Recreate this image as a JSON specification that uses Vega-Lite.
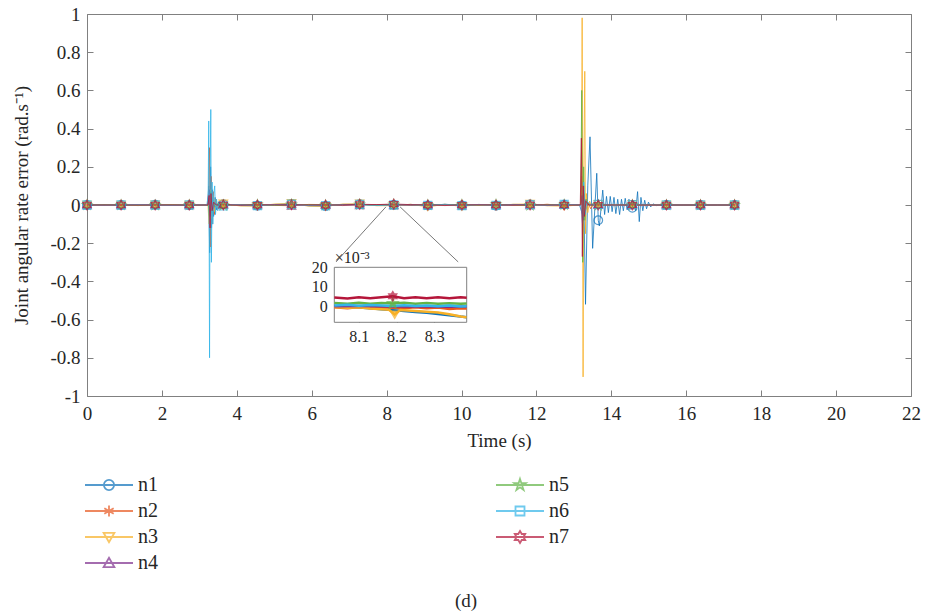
{
  "$schema": "https://vega.github.io/schema/vega-lite/v6.json",
  "width": 824,
  "height": 382,
  "autosize": {"type": "none"},
  "padding": {"left": 87, "top": 14, "right": 15, "bottom": 220},
  "background": "white",
  "config": {
    "font": "Liberation Serif",
    "view": {"stroke": "#808080", "strokeWidth": 1},
    "axis": {"grid": false, "domain": false, "labelFlush": false, "tickColor": "#808080", "labelColor": "#262626", "titleColor": "#262626", "labelFont": "Liberation Serif", "titleFont": "Liberation Serif", "titleFontWeight": "normal", "labelFontSize": 19, "titleFontSize": 19}
  },
  "title": {"text": "(d)", "orient": "bottom", "anchor": "middle", "frame": "group", "dx": -33, "offset": 19, "font": "Liberation Serif", "fontSize": 19, "fontWeight": "normal", "color": "#262626"},
  "datasets": {
    "lines": [
      {"s":"n1","t":0,"v":0,"m":1},{"s":"n1","t":0.455,"v":0.002},{"s":"n1","t":0.91,"v":0,"m":1},{"s":"n1","t":1.365,"v":-0.003},{"s":"n1","t":1.82,"v":0.002,"m":1},{"s":"n1","t":2.275,"v":0},{"s":"n1","t":2.73,"v":-0.002,"m":1},{"s":"n1","t":3.185,"v":0},
      {"s":"n1","t":3.22,"v":0},{"s":"n1","t":3.25,"v":0.1},{"s":"n1","t":3.275,"v":-0.25},{"s":"n1","t":3.3,"v":0.2},{"s":"n1","t":3.325,"v":-0.12},{"s":"n1","t":3.35,"v":0.08},{"s":"n1","t":3.38,"v":-0.06},{"s":"n1","t":3.42,"v":0.04},{"s":"n1","t":3.46,"v":-0.025},{"s":"n1","t":3.52,"v":0.015},{"s":"n1","t":3.58,"v":-0.008},
      {"s":"n1","t":3.64,"v":0.004,"m":1},{"s":"n1","t":4.095,"v":-0.003},{"s":"n1","t":4.55,"v":-0.004,"m":1},{"s":"n1","t":5.005,"v":0.003},{"s":"n1","t":5.46,"v":0.006,"m":1},{"s":"n1","t":5.915,"v":-0.004},{"s":"n1","t":6.37,"v":-0.006,"m":1},{"s":"n1","t":6.825,"v":0.003},{"s":"n1","t":7.28,"v":0.004,"m":1},{"s":"n1","t":7.735,"v":-0.002},{"s":"n1","t":8.19,"v":0,"m":1},{"s":"n1","t":8.645,"v":0.003},{"s":"n1","t":9.1,"v":-0.003,"m":1},{"s":"n1","t":9.555,"v":0.004},{"s":"n1","t":10.01,"v":-0.002,"m":1},{"s":"n1","t":10.465,"v":0.003},{"s":"n1","t":10.92,"v":-0.004,"m":1},{"s":"n1","t":11.375,"v":0.002},{"s":"n1","t":11.83,"v":0.003,"m":1},{"s":"n1","t":12.285,"v":-0.003},{"s":"n1","t":12.74,"v":0.002,"m":1},{"s":"n1","t":13.15,"v":0},
      {"s":"n1","t":13.23,"v":-0.05},{"s":"n1","t":13.26,"v":0.1},{"s":"n1","t":13.31,"v":-0.52},{"s":"n1","t":13.37,"v":0.1},{"s":"n1","t":13.43,"v":0.357},{"s":"n1","t":13.5,"v":-0.227},{"s":"n1","t":13.61,"v":0.166},{"s":"n1","t":13.65,"v":-0.08,"m":1},{"s":"n1","t":13.68,"v":-0.11},{"s":"n1","t":13.77,"v":0.078},{"s":"n1","t":13.82,"v":-0.05},{"s":"n1","t":13.87,"v":0.045},{"s":"n1","t":13.92,"v":-0.04},{"s":"n1","t":13.97,"v":0.045},{"s":"n1","t":14.02,"v":-0.035},{"s":"n1","t":14.07,"v":0.04},{"s":"n1","t":14.12,"v":-0.045},{"s":"n1","t":14.17,"v":0.03},{"s":"n1","t":14.22,"v":-0.05},{"s":"n1","t":14.27,"v":0.03},{"s":"n1","t":14.32,"v":-0.03},{"s":"n1","t":14.37,"v":0.035},{"s":"n1","t":14.42,"v":-0.025},{"s":"n1","t":14.47,"v":0.03},{"s":"n1","t":14.51,"v":-0.02},{"s":"n1","t":14.56,"v":-0.015,"m":1},{"s":"n1","t":14.6,"v":0.025},{"s":"n1","t":14.65,"v":-0.03},{"s":"n1","t":14.7,"v":0.07},{"s":"n1","t":14.745,"v":-0.087},{"s":"n1","t":14.79,"v":0.04},{"s":"n1","t":14.84,"v":-0.03},{"s":"n1","t":14.89,"v":0.025},{"s":"n1","t":14.94,"v":-0.02},{"s":"n1","t":14.99,"v":0.015},{"s":"n1","t":15.05,"v":-0.01},{"s":"n1","t":15.12,"v":0.006},{"s":"n1","t":15.2,"v":-0.003},{"s":"n1","t":15.3,"v":0},
      {"s":"n1","t":15.47,"v":0,"m":1},{"s":"n1","t":15.925,"v":0},{"s":"n1","t":16.38,"v":0,"m":1},{"s":"n1","t":16.835,"v":0},{"s":"n1","t":17.29,"v":0,"m":1},

      {"s":"n2","t":0,"v":0,"m":1},{"s":"n2","t":0.455,"v":-0.002},{"s":"n2","t":0.91,"v":0,"m":1},{"s":"n2","t":1.365,"v":0.002},{"s":"n2","t":1.82,"v":0,"m":1},{"s":"n2","t":2.275,"v":-0.002},{"s":"n2","t":2.73,"v":0,"m":1},{"s":"n2","t":3.185,"v":0},
      {"s":"n2","t":3.22,"v":0},{"s":"n2","t":3.245,"v":0.06},{"s":"n2","t":3.27,"v":0.3},{"s":"n2","t":3.29,"v":-0.22},{"s":"n2","t":3.315,"v":0.15},{"s":"n2","t":3.34,"v":-0.1},{"s":"n2","t":3.37,"v":0.07},{"s":"n2","t":3.4,"v":-0.05},{"s":"n2","t":3.44,"v":0.03},{"s":"n2","t":3.49,"v":-0.02},{"s":"n2","t":3.55,"v":0.01},{"s":"n2","t":3.6,"v":-0.005},
      {"s":"n2","t":3.64,"v":-0.003,"m":1},{"s":"n2","t":4.095,"v":0.002},{"s":"n2","t":4.55,"v":0.003,"m":1},{"s":"n2","t":5.005,"v":-0.002},{"s":"n2","t":5.46,"v":-0.004,"m":1},{"s":"n2","t":5.915,"v":0.003},{"s":"n2","t":6.37,"v":0.002,"m":1},{"s":"n2","t":6.825,"v":-0.003},{"s":"n2","t":7.28,"v":0.002,"m":1},{"s":"n2","t":7.735,"v":0.002},{"s":"n2","t":8.19,"v":0,"m":1},{"s":"n2","t":8.645,"v":-0.002},{"s":"n2","t":9.1,"v":0.002,"m":1},{"s":"n2","t":9.555,"v":-0.003},{"s":"n2","t":10.01,"v":0.002,"m":1},{"s":"n2","t":10.465,"v":-0.002},{"s":"n2","t":10.92,"v":0.003,"m":1},{"s":"n2","t":11.375,"v":-0.002},{"s":"n2","t":11.83,"v":-0.003,"m":1},{"s":"n2","t":12.285,"v":0.004},{"s":"n2","t":12.74,"v":-0.004,"m":1},{"s":"n2","t":13.15,"v":0},
      {"s":"n2","t":13.18,"v":0},{"s":"n2","t":13.21,"v":0.15},{"s":"n2","t":13.235,"v":-0.15},{"s":"n2","t":13.27,"v":0.06},{"s":"n2","t":13.31,"v":-0.03},{"s":"n2","t":13.38,"v":0.01},{"s":"n2","t":13.45,"v":-0.02},{"s":"n2","t":13.52,"v":0.01},
      {"s":"n2","t":13.65,"v":0.003,"m":1},{"s":"n2","t":14.105,"v":-0.002},{"s":"n2","t":14.56,"v":0.002,"m":1},{"s":"n2","t":15.015,"v":0},{"s":"n2","t":15.47,"v":0,"m":1},{"s":"n2","t":15.925,"v":0},{"s":"n2","t":16.38,"v":0,"m":1},{"s":"n2","t":16.835,"v":0},{"s":"n2","t":17.29,"v":0,"m":1},

      {"s":"n3","t":0,"v":0,"m":1},{"s":"n3","t":0.455,"v":0.001},{"s":"n3","t":0.91,"v":0,"m":1},{"s":"n3","t":1.365,"v":-0.002},{"s":"n3","t":1.82,"v":0.001,"m":1},{"s":"n3","t":2.275,"v":0.002},{"s":"n3","t":2.73,"v":-0.001,"m":1},{"s":"n3","t":3.185,"v":0},
      {"s":"n3","t":3.23,"v":0},{"s":"n3","t":3.26,"v":-0.1},{"s":"n3","t":3.29,"v":0.08},{"s":"n3","t":3.32,"v":-0.07},{"s":"n3","t":3.36,"v":0.05},{"s":"n3","t":3.4,"v":-0.035},{"s":"n3","t":3.45,"v":0.03},{"s":"n3","t":3.5,"v":-0.02},{"s":"n3","t":3.56,"v":0.012},{"s":"n3","t":3.6,"v":-0.006},
      {"s":"n3","t":3.64,"v":0.006,"m":1},{"s":"n3","t":4.095,"v":-0.005},{"s":"n3","t":4.55,"v":-0.006,"m":1},{"s":"n3","t":5.005,"v":0.005},{"s":"n3","t":5.46,"v":0.008,"m":1},{"s":"n3","t":5.915,"v":-0.006},{"s":"n3","t":6.37,"v":-0.008,"m":1},{"s":"n3","t":6.825,"v":0.005},{"s":"n3","t":7.28,"v":0.006,"m":1},{"s":"n3","t":7.735,"v":-0.004},{"s":"n3","t":8.19,"v":-0.003,"m":1},{"s":"n3","t":8.645,"v":0.004},{"s":"n3","t":9.1,"v":-0.01,"m":1},{"s":"n3","t":9.555,"v":0.004},{"s":"n3","t":10.01,"v":-0.008,"m":1},{"s":"n3","t":10.465,"v":0.003},{"s":"n3","t":10.92,"v":-0.005,"m":1},{"s":"n3","t":11.375,"v":0.004},{"s":"n3","t":11.83,"v":0.005,"m":1},{"s":"n3","t":12.285,"v":-0.004},{"s":"n3","t":12.74,"v":-0.006,"m":1},{"s":"n3","t":13.15,"v":0},
      {"s":"n3","t":13.18,"v":0},{"s":"n3","t":13.205,"v":0.1},{"s":"n3","t":13.22,"v":0.98},{"s":"n3","t":13.245,"v":-0.9},{"s":"n3","t":13.265,"v":0.2},{"s":"n3","t":13.29,"v":0.7},{"s":"n3","t":13.31,"v":-0.15},{"s":"n3","t":13.335,"v":0.06},{"s":"n3","t":13.37,"v":-0.04},{"s":"n3","t":13.42,"v":0.02},{"s":"n3","t":13.48,"v":-0.01},{"s":"n3","t":13.55,"v":0.005},
      {"s":"n3","t":13.65,"v":0.004,"m":1},{"s":"n3","t":14.105,"v":-0.004},{"s":"n3","t":14.56,"v":0.003,"m":1},{"s":"n3","t":15.015,"v":-0.002},{"s":"n3","t":15.47,"v":0,"m":1},{"s":"n3","t":15.925,"v":0},{"s":"n3","t":16.38,"v":0,"m":1},{"s":"n3","t":16.835,"v":0},{"s":"n3","t":17.29,"v":0,"m":1},

      {"s":"n4","t":0,"v":0,"m":1},{"s":"n4","t":0.455,"v":0},{"s":"n4","t":0.91,"v":0,"m":1},{"s":"n4","t":1.365,"v":0.001},{"s":"n4","t":1.82,"v":0,"m":1},{"s":"n4","t":2.275,"v":0},{"s":"n4","t":2.73,"v":0,"m":1},{"s":"n4","t":3.185,"v":0},
      {"s":"n4","t":3.24,"v":0},{"s":"n4","t":3.27,"v":0.08},{"s":"n4","t":3.3,"v":-0.06},{"s":"n4","t":3.33,"v":0.04},{"s":"n4","t":3.37,"v":-0.02},{"s":"n4","t":3.42,"v":0.01},{"s":"n4","t":3.5,"v":0},
      {"s":"n4","t":3.64,"v":0.002,"m":1},{"s":"n4","t":4.095,"v":-0.001},{"s":"n4","t":4.55,"v":0.001,"m":1},{"s":"n4","t":5.005,"v":0},{"s":"n4","t":5.46,"v":-0.002,"m":1},{"s":"n4","t":5.915,"v":0.001},{"s":"n4","t":6.37,"v":0.002,"m":1},{"s":"n4","t":6.825,"v":-0.001},{"s":"n4","t":7.28,"v":0,"m":1},{"s":"n4","t":7.735,"v":0.001},{"s":"n4","t":8.19,"v":0,"m":1},{"s":"n4","t":8.645,"v":-0.001},{"s":"n4","t":9.1,"v":0.001,"m":1},{"s":"n4","t":9.555,"v":0},{"s":"n4","t":10.01,"v":-0.001,"m":1},{"s":"n4","t":10.465,"v":0.001},{"s":"n4","t":10.92,"v":0,"m":1},{"s":"n4","t":11.375,"v":-0.001},{"s":"n4","t":11.83,"v":0.001,"m":1},{"s":"n4","t":12.285,"v":0},{"s":"n4","t":12.74,"v":0.002,"m":1},{"s":"n4","t":13.15,"v":0},
      {"s":"n4","t":13.19,"v":0},{"s":"n4","t":13.22,"v":0.05},{"s":"n4","t":13.25,"v":-0.08},{"s":"n4","t":13.29,"v":0.03},{"s":"n4","t":13.35,"v":0},
      {"s":"n4","t":13.65,"v":0.002,"m":1},{"s":"n4","t":14.105,"v":-0.001},{"s":"n4","t":14.56,"v":0.001,"m":1},{"s":"n4","t":15.015,"v":0},{"s":"n4","t":15.47,"v":0,"m":1},{"s":"n4","t":15.925,"v":0},{"s":"n4","t":16.38,"v":0,"m":1},{"s":"n4","t":16.835,"v":0},{"s":"n4","t":17.29,"v":0,"m":1},

      {"s":"n5","t":0,"v":0,"m":1},{"s":"n5","t":0.455,"v":0.001},{"s":"n5","t":0.91,"v":0,"m":1},{"s":"n5","t":1.365,"v":0},{"s":"n5","t":1.82,"v":-0.001,"m":1},{"s":"n5","t":2.275,"v":0.001},{"s":"n5","t":2.73,"v":0,"m":1},{"s":"n5","t":3.185,"v":0},
      {"s":"n5","t":3.24,"v":0},{"s":"n5","t":3.27,"v":-0.06},{"s":"n5","t":3.3,"v":0.07},{"s":"n5","t":3.33,"v":-0.04},{"s":"n5","t":3.37,"v":0.025},{"s":"n5","t":3.42,"v":-0.01},{"s":"n5","t":3.5,"v":0},
      {"s":"n5","t":3.64,"v":-0.002,"m":1},{"s":"n5","t":4.095,"v":0.002},{"s":"n5","t":4.55,"v":0.001,"m":1},{"s":"n5","t":5.005,"v":-0.002},{"s":"n5","t":5.46,"v":0.002,"m":1},{"s":"n5","t":5.915,"v":0.002},{"s":"n5","t":6.37,"v":-0.001,"m":1},{"s":"n5","t":6.825,"v":0.002},{"s":"n5","t":7.28,"v":0.002,"m":1},{"s":"n5","t":7.735,"v":0},{"s":"n5","t":8.19,"v":0.002,"m":1},{"s":"n5","t":8.645,"v":0.001},{"s":"n5","t":9.1,"v":0,"m":1},{"s":"n5","t":9.555,"v":0.002},{"s":"n5","t":10.01,"v":0.001,"m":1},{"s":"n5","t":10.465,"v":-0.001},{"s":"n5","t":10.92,"v":0.002,"m":1},{"s":"n5","t":11.375,"v":0.001},{"s":"n5","t":11.83,"v":-0.002,"m":1},{"s":"n5","t":12.285,"v":0.002},{"s":"n5","t":12.74,"v":0.001,"m":1},{"s":"n5","t":13.15,"v":0},
      {"s":"n5","t":13.18,"v":0},{"s":"n5","t":13.21,"v":0.6},{"s":"n5","t":13.235,"v":-0.3},{"s":"n5","t":13.26,"v":0.2},{"s":"n5","t":13.29,"v":-0.08},{"s":"n5","t":13.33,"v":0.03},{"s":"n5","t":13.4,"v":0},
      {"s":"n5","t":13.65,"v":-0.002,"m":1},{"s":"n5","t":14.105,"v":0.001},{"s":"n5","t":14.56,"v":0,"m":1},{"s":"n5","t":15.015,"v":0.001},{"s":"n5","t":15.47,"v":0,"m":1},{"s":"n5","t":15.925,"v":0},{"s":"n5","t":16.38,"v":0,"m":1},{"s":"n5","t":16.835,"v":0},{"s":"n5","t":17.29,"v":0,"m":1},

      {"s":"n6","t":0,"v":0,"m":1},{"s":"n6","t":0.455,"v":-0.001},{"s":"n6","t":0.91,"v":0,"m":1},{"s":"n6","t":1.365,"v":0.002},{"s":"n6","t":1.82,"v":0,"m":1},{"s":"n6","t":2.275,"v":-0.002},{"s":"n6","t":2.73,"v":0.001,"m":1},{"s":"n6","t":3.185,"v":0},
      {"s":"n6","t":3.2,"v":0},{"s":"n6","t":3.235,"v":0.05},{"s":"n6","t":3.25,"v":0.44},{"s":"n6","t":3.262,"v":-0.2},{"s":"n6","t":3.272,"v":-0.8},{"s":"n6","t":3.285,"v":0.1},{"s":"n6","t":3.305,"v":0.5},{"s":"n6","t":3.322,"v":-0.3},{"s":"n6","t":3.34,"v":0.12},{"s":"n6","t":3.36,"v":-0.1},{"s":"n6","t":3.385,"v":0.06},{"s":"n6","t":3.41,"v":0.1},{"s":"n6","t":3.43,"v":-0.05},{"s":"n6","t":3.46,"v":0.03},{"s":"n6","t":3.49,"v":-0.03},{"s":"n6","t":3.53,"v":0.02},{"s":"n6","t":3.57,"v":-0.015},{"s":"n6","t":3.6,"v":0.01},
      {"s":"n6","t":3.64,"v":-0.005,"m":1},{"s":"n6","t":3.7,"v":0.008},{"s":"n6","t":3.78,"v":-0.004},{"s":"n6","t":3.86,"v":0.002},{"s":"n6","t":4.095,"v":0.002},{"s":"n6","t":4.55,"v":-0.003,"m":1},{"s":"n6","t":5.005,"v":0.002},{"s":"n6","t":5.46,"v":0.004,"m":1},{"s":"n6","t":5.915,"v":-0.003},{"s":"n6","t":6.37,"v":-0.003,"m":1},{"s":"n6","t":6.825,"v":0.002},{"s":"n6","t":7.28,"v":0.003,"m":1},{"s":"n6","t":7.735,"v":-0.002},{"s":"n6","t":8.19,"v":0.001,"m":1},{"s":"n6","t":8.645,"v":0.002},{"s":"n6","t":9.1,"v":-0.002,"m":1},{"s":"n6","t":9.555,"v":0.003},{"s":"n6","t":10.01,"v":-0.003,"m":1},{"s":"n6","t":10.465,"v":0.002},{"s":"n6","t":10.92,"v":-0.002,"m":1},{"s":"n6","t":11.375,"v":0.003},{"s":"n6","t":11.83,"v":0.002,"m":1},{"s":"n6","t":12.285,"v":-0.002},{"s":"n6","t":12.74,"v":0.003,"m":1},{"s":"n6","t":13.15,"v":0},
      {"s":"n6","t":13.19,"v":0},{"s":"n6","t":13.23,"v":-0.1},{"s":"n6","t":13.26,"v":0.12},{"s":"n6","t":13.3,"v":-0.05},{"s":"n6","t":13.35,"v":0.02},{"s":"n6","t":13.45,"v":0},
      {"s":"n6","t":13.65,"v":0.003,"m":1},{"s":"n6","t":14.105,"v":-0.002},{"s":"n6","t":14.56,"v":0.002,"m":1},{"s":"n6","t":15.015,"v":0},{"s":"n6","t":15.47,"v":0,"m":1},{"s":"n6","t":15.925,"v":0},{"s":"n6","t":16.38,"v":0,"m":1},{"s":"n6","t":16.835,"v":0},{"s":"n6","t":17.29,"v":0,"m":1},

      {"s":"n7","t":0,"v":0,"m":1},{"s":"n7","t":0.455,"v":0},{"s":"n7","t":0.91,"v":0,"m":1},{"s":"n7","t":1.365,"v":0},{"s":"n7","t":1.82,"v":0,"m":1},{"s":"n7","t":2.275,"v":0},{"s":"n7","t":2.73,"v":0,"m":1},{"s":"n7","t":3.185,"v":0},
      {"s":"n7","t":3.23,"v":0},{"s":"n7","t":3.26,"v":0.05},{"s":"n7","t":3.285,"v":-0.12},{"s":"n7","t":3.31,"v":0.06},{"s":"n7","t":3.34,"v":-0.03},{"s":"n7","t":3.38,"v":0.015},{"s":"n7","t":3.45,"v":0},
      {"s":"n7","t":3.64,"v":0.001,"m":1},{"s":"n7","t":4.095,"v":0},{"s":"n7","t":4.55,"v":0,"m":1},{"s":"n7","t":5.005,"v":0.001},{"s":"n7","t":5.46,"v":0.002,"m":1},{"s":"n7","t":5.915,"v":0},{"s":"n7","t":6.37,"v":-0.001,"m":1},{"s":"n7","t":6.825,"v":0.001},{"s":"n7","t":7.28,"v":0.004,"m":1},{"s":"n7","t":7.735,"v":0.002},{"s":"n7","t":8.19,"v":0.005,"m":1},{"s":"n7","t":8.645,"v":0.002},{"s":"n7","t":9.1,"v":0,"m":1},{"s":"n7","t":9.555,"v":-0.001},{"s":"n7","t":10.01,"v":0,"m":1},{"s":"n7","t":10.465,"v":0.001},{"s":"n7","t":10.92,"v":0,"m":1},{"s":"n7","t":11.375,"v":0.001},{"s":"n7","t":11.83,"v":0.001,"m":1},{"s":"n7","t":12.285,"v":0},{"s":"n7","t":12.74,"v":0,"m":1},{"s":"n7","t":13.15,"v":0},
      {"s":"n7","t":13.17,"v":0},{"s":"n7","t":13.2,"v":0.35},{"s":"n7","t":13.225,"v":-0.27},{"s":"n7","t":13.25,"v":0.1},{"s":"n7","t":13.28,"v":-0.06},{"s":"n7","t":13.32,"v":0.02},{"s":"n7","t":13.4,"v":0},
      {"s":"n7","t":13.65,"v":0,"m":1},{"s":"n7","t":14.105,"v":0},{"s":"n7","t":14.56,"v":0,"m":1},{"s":"n7","t":15.015,"v":0},{"s":"n7","t":15.47,"v":0,"m":1},{"s":"n7","t":15.925,"v":0},{"s":"n7","t":16.38,"v":0,"m":1},{"s":"n7","t":16.835,"v":0},{"s":"n7","t":17.29,"v":0,"m":1}
    ],
    "ins": [
      {"s":"n1","t":8.035,"v":0.3},{"s":"n1","t":8.07,"v":-0.2},{"s":"n1","t":8.1,"v":-0.5},{"s":"n1","t":8.13,"v":-0.9},{"s":"n1","t":8.16,"v":-1.3},{"s":"n1","t":8.19,"v":-1.8},{"s":"n1","t":8.22,"v":-2.2},{"s":"n1","t":8.25,"v":-2.7},{"s":"n1","t":8.28,"v":-3.2},{"s":"n1","t":8.31,"v":-3.8},{"s":"n1","t":8.34,"v":-4.4},{"s":"n1","t":8.37,"v":-5.1},{"s":"n1","t":8.386,"v":-5.4},
      {"s":"n2","t":8.035,"v":-0.3},{"s":"n2","t":8.07,"v":-0.8},{"s":"n2","t":8.1,"v":-0.2},{"s":"n2","t":8.13,"v":-0.7},{"s":"n2","t":8.16,"v":-0.4},{"s":"n2","t":8.19,"v":-0.6},{"s":"n2","t":8.22,"v":-0.9},{"s":"n2","t":8.25,"v":-0.3},{"s":"n2","t":8.28,"v":-0.8},{"s":"n2","t":8.31,"v":-0.5},{"s":"n2","t":8.34,"v":-1.2},{"s":"n2","t":8.37,"v":-0.9},{"s":"n2","t":8.386,"v":-1.0},
      {"s":"n3","t":8.035,"v":-0.2},{"s":"n3","t":8.07,"v":-0.6},{"s":"n3","t":8.1,"v":-0.4},{"s":"n3","t":8.13,"v":-1.0},{"s":"n3","t":8.16,"v":-1.4},{"s":"n3","t":8.18,"v":-1.6},{"s":"n3","t":8.195,"v":-4.0,"m":1},{"s":"n3","t":8.21,"v":-1.8},{"s":"n3","t":8.25,"v":-2.3},{"s":"n3","t":8.28,"v":-2.6},{"s":"n3","t":8.31,"v":-3.0},{"s":"n3","t":8.34,"v":-3.9},{"s":"n3","t":8.37,"v":-5.0},{"s":"n3","t":8.386,"v":-5.5},
      {"s":"n4","t":8.035,"v":0.2},{"s":"n4","t":8.1,"v":0.3},{"s":"n4","t":8.16,"v":0.2},{"s":"n4","t":8.22,"v":0.1},{"s":"n4","t":8.28,"v":0},{"s":"n4","t":8.34,"v":-0.1},{"s":"n4","t":8.386,"v":0},
      {"s":"n5","t":8.035,"v":1.8},{"s":"n5","t":8.07,"v":1.4},{"s":"n5","t":8.1,"v":1.9},{"s":"n5","t":8.13,"v":1.5},{"s":"n5","t":8.16,"v":1.8},{"s":"n5","t":8.19,"v":1.6,"m":1},{"s":"n5","t":8.22,"v":1.9},{"s":"n5","t":8.25,"v":1.5},{"s":"n5","t":8.28,"v":1.8},{"s":"n5","t":8.31,"v":1.4},{"s":"n5","t":8.34,"v":1.7},{"s":"n5","t":8.37,"v":1.5},{"s":"n5","t":8.386,"v":1.6},
      {"s":"n6","t":8.035,"v":0.5},{"s":"n6","t":8.07,"v":0.9},{"s":"n6","t":8.1,"v":0.4},{"s":"n6","t":8.13,"v":0.8},{"s":"n6","t":8.16,"v":0.5},{"s":"n6","t":8.19,"v":0.3},{"s":"n6","t":8.22,"v":0.7},{"s":"n6","t":8.25,"v":0.3},{"s":"n6","t":8.28,"v":0.6},{"s":"n6","t":8.31,"v":0.2},{"s":"n6","t":8.34,"v":0.5},{"s":"n6","t":8.37,"v":0.1},{"s":"n6","t":8.386,"v":0.2},
      {"s":"n7","t":8.035,"v":4.6},{"s":"n7","t":8.07,"v":4.1},{"s":"n7","t":8.1,"v":4.8},{"s":"n7","t":8.13,"v":4.2},{"s":"n7","t":8.16,"v":4.7},{"s":"n7","t":8.19,"v":5.3,"m":1},{"s":"n7","t":8.22,"v":4.3},{"s":"n7","t":8.25,"v":4.8},{"s":"n7","t":8.28,"v":4.2},{"s":"n7","t":8.31,"v":4.7},{"s":"n7","t":8.34,"v":4.2},{"s":"n7","t":8.37,"v":4.7},{"s":"n7","t":8.386,"v":4.5}
    ],
    "conn": [
      {"t":7.98,"v":-0.01,"t2":6.65,"v2":-0.298},
      {"t":8.36,"v":-0.01,"t2":9.91,"v2":-0.298}
    ]
  },
  "layer": [
    {
      "data": {"name": "lines"},
      "encoding": {
        "x": {"field": "t", "type": "quantitative", "scale": {"domain": [0, 22], "nice": false, "zero": false},
              "axis": {"orient": "bottom", "title": "Time (s)", "values": [0,2,4,6,8,10,12,14,16,18,20,22], "labelExpr": "'' + datum.value", "tickSize": -6, "labelPadding": 14, "titlePadding": 8}},
        "y": {"field": "v", "type": "quantitative", "scale": {"domain": [-1, 1], "nice": false, "zero": false},
              "axis": {"orient": "left", "title": "Joint angular rate error (rad.s⁻¹)", "values": [-1,-0.8,-0.6,-0.4,-0.2,0,0.2,0.4,0.6,0.8,1], "labelExpr": "'' + datum.value", "tickSize": -6, "labelPadding": 13, "titlePadding": 18}}
      },
      "layer": [
        {"mark": {"type": "line", "strokeWidth": 0.8},
         "encoding": {"stroke": {"field": "s", "type": "nominal", "legend": null,
            "scale": {"domain": ["n7","n6","n5","n4","n3","n2","n1"], "range": ["#B5163A","#33B5E8","#62B447","#7E2F8E","#F7B026","#E8561E","#0E72BA"]}}}},
        {"transform": [{"filter": "datum.m == 1 && datum.s == 'n1'"}], "mark": {"type": "point", "shape": "circle", "filled": false, "size": 75, "strokeWidth": 1.2},
         "encoding": {"stroke": {"field": "s", "type": "nominal", "legend": null}}},
        {"transform": [{"filter": "datum.m == 1 && datum.s == 'n2'"}], "mark": {"type": "point", "shape": "M0,-1V1M-0.87,-0.5L0.87,0.5M-0.87,0.5L0.87,-0.5", "filled": false, "size": 70, "strokeWidth": 1.2},
         "encoding": {"stroke": {"field": "s", "type": "nominal", "legend": null}}},
        {"transform": [{"filter": "datum.m == 1 && datum.s == 'n3'"}], "mark": {"type": "point", "shape": "triangle-down", "filled": false, "size": 75, "strokeWidth": 1.2},
         "encoding": {"stroke": {"field": "s", "type": "nominal", "legend": null}}},
        {"transform": [{"filter": "datum.m == 1 && datum.s == 'n4'"}], "mark": {"type": "point", "shape": "triangle-up", "filled": false, "size": 75, "strokeWidth": 1.2},
         "encoding": {"stroke": {"field": "s", "type": "nominal", "legend": null}}},
        {"transform": [{"filter": "datum.m == 1 && datum.s == 'n5'"}], "mark": {"type": "point", "shape": "M0,-1L0.225,-0.309L0.951,-0.309L0.363,0.118L0.588,0.809L0,0.382L-0.588,0.809L-0.363,0.118L-0.951,-0.309L-0.225,-0.309Z", "filled": false, "size": 95, "strokeWidth": 1.2},
         "encoding": {"stroke": {"field": "s", "type": "nominal", "legend": null}}},
        {"transform": [{"filter": "datum.m == 1 && datum.s == 'n6'"}], "mark": {"type": "point", "shape": "square", "filled": false, "size": 65, "strokeWidth": 1.2},
         "encoding": {"stroke": {"field": "s", "type": "nominal", "legend": null}}},
        {"transform": [{"filter": "datum.m == 1 && datum.s == 'n7'"}], "mark": {"type": "point", "shape": "M0,-1L0.289,-0.5L0.866,-0.5L0.577,0L0.866,0.5L0.289,0.5L0,1L-0.289,0.5L-0.866,0.5L-0.577,0L-0.866,-0.5L-0.289,-0.5Z", "filled": false, "size": 95, "strokeWidth": 1.2},
         "encoding": {"stroke": {"field": "s", "type": "nominal", "legend": null}}},
        {"data": {"name": "conn"}, "mark": {"type": "rule", "color": "#555555", "strokeWidth": 0.8},
         "encoding": {"x2": {"field": "t2"}, "y2": {"field": "v2"}}},
        {"transform": [{"filter": "false"}], "mark": {"type": "point", "filled": false},
         "encoding": {
           "color": {"field": "s", "type": "nominal",
             "scale": {"domain": ["n1","n2","n3","n4","n5","n6","n7"], "range": ["#0E72BA","#E8561E","#F7B026","#7E2F8E","#62B447","#33B5E8","#B5163A"]},
             "legend": {"title": null, "orient": "none", "legendX": 12, "legendY": 461, "direction": "vertical", "columns": 2, "columnPadding": 334, "rowPadding": 6, "symbolSize": 144, "symbolStrokeWidth": 1.8, "labelFontSize": 20, "labelFont": "Liberation Serif", "labelColor": "#262626", "labelOffset": 19, "padding": 0}},
           "shape": {"field": "s", "type": "nominal",
             "scale": {"domain": ["n1","n2","n3","n4","n5","n6","n7"], "range": [
               "M-4,0H4M0.85,0A0.85,0.85 0 1,1 -0.85,0A0.85,0.85 0 1,1 0.85,0",
               "M-4,0H4M0,-0.9V0.9M-0.78,-0.45L0.78,0.45M-0.78,0.45L0.78,-0.45",
               "M-4,0H4M-0.9,-0.7L0.9,-0.7L0,0.85Z",
               "M-4,0H4M-0.9,0.7L0.9,0.7L0,-0.85Z",
               "M-4,0H4M0,-1L0.225,-0.309L0.951,-0.309L0.363,0.118L0.588,0.809L0,0.382L-0.588,0.809L-0.363,0.118L-0.951,-0.309L-0.225,-0.309Z",
               "M-4,0H4M-0.75,-0.75H0.75V0.75H-0.75Z",
               "M-4,0H4M0,-1L0.289,-0.5L0.866,-0.5L0.577,0L0.866,0.5L0.289,0.5L0,1L-0.289,0.5L-0.866,0.5L-0.577,0L-0.866,-0.5L-0.289,-0.5Z"
             ]},
             "legend": {"title": null, "orient": "none", "legendX": 12, "legendY": 461, "direction": "vertical", "columns": 2, "columnPadding": 334, "rowPadding": 6, "symbolSize": 144, "symbolStrokeWidth": 1.8, "labelFontSize": 20, "labelFont": "Liberation Serif", "labelColor": "#262626", "labelOffset": 19, "padding": 0}}
         }}
      ]
    },
    {
      "data": {"values": [{"t": 0, "v": 0}]},
      "mark": {"type": "point", "opacity": 0},
      "encoding": {
        "x": {"field": "t", "type": "quantitative", "scale": {"domain": [0, 22], "nice": false, "zero": false},
              "axis": {"orient": "top", "title": null, "values": [0,2,4,6,8,10,12,14,16,18,20,22], "labels": false, "tickSize": -6}},
        "y": {"field": "v", "type": "quantitative", "scale": {"domain": [-1, 1], "nice": false, "zero": false},
              "axis": {"orient": "right", "title": null, "values": [-1,-0.8,-0.6,-0.4,-0.2,0,0.2,0.4,0.6,0.8,1], "labels": false, "tickSize": -6}}
      }
    },
    {
      "data": {"name": "ins"},
      "encoding": {
        "x": {"field": "t", "type": "quantitative", "scale": {"domain": [8.035, 8.386], "range": [247.3, 379.7], "nice": false, "zero": false},
              "axis": {"orient": "bottom", "offset": -73.7, "title": null, "values": [8.1, 8.2, 8.3], "labelExpr": "'' + datum.value", "labelFontSize": 16, "tickSize": -4, "labelPadding": 10}},
        "y": {"field": "v", "type": "quantitative", "scale": {"domain": [-8, 20], "range": [308.3, 253.3], "nice": false, "zero": false},
              "axis": {"orient": "left", "offset": -247.3, "values": [0, 10, 20], "labelFontSize": 16, "tickSize": -4, "labelPadding": 11,
                       "title": "×10⁻³", "titleAngle": 0, "titleX": 0, "titleY": 243, "titleAlign": "left", "titleBaseline": "middle", "titleFontSize": 16}}
      },
      "layer": [
        {"data": {"values": [{"t": 8.035, "t2": 8.386, "v": -8, "v2": 20}]},
         "mark": {"type": "rect", "fill": "white", "stroke": "#808080", "strokeWidth": 1},
         "encoding": {"x2": {"field": "t2"}, "y2": {"field": "v2"}}},
        {"mark": {"type": "line", "strokeWidth": 2.5},
         "encoding": {"stroke": {"field": "s", "type": "nominal", "legend": null,
            "scale": {"domain": ["n7","n6","n5","n4","n3","n2","n1"], "range": ["#B5163A","#33B5E8","#62B447","#7E2F8E","#F7B026","#E8561E","#0E72BA"]}}}},
        {"transform": [{"filter": "datum.m == 1 && datum.s == 'n3'"}], "mark": {"type": "point", "shape": "triangle-down", "filled": false, "size": 40, "strokeWidth": 2.5},
         "encoding": {"stroke": {"field": "s", "type": "nominal", "legend": null}}},
        {"transform": [{"filter": "datum.m == 1 && datum.s == 'n5'"}], "mark": {"type": "point", "shape": "M0,-1L0.225,-0.309L0.951,-0.309L0.363,0.118L0.588,0.809L0,0.382L-0.588,0.809L-0.363,0.118L-0.951,-0.309L-0.225,-0.309Z", "filled": false, "size": 50, "strokeWidth": 2.5},
         "encoding": {"stroke": {"field": "s", "type": "nominal", "legend": null}}},
        {"transform": [{"filter": "datum.m == 1 && datum.s == 'n7'"}], "mark": {"type": "point", "shape": "M0,-1L0.289,-0.5L0.866,-0.5L0.577,0L0.866,0.5L0.289,0.5L0,1L-0.289,0.5L-0.866,0.5L-0.577,0L-0.866,-0.5L-0.289,-0.5Z", "filled": false, "size": 50, "strokeWidth": 2.5},
         "encoding": {"stroke": {"field": "s", "type": "nominal", "legend": null}}}
      ]
    }
  ],
  "resolve": {"scale": {"x": "independent", "y": "independent"}}
}
